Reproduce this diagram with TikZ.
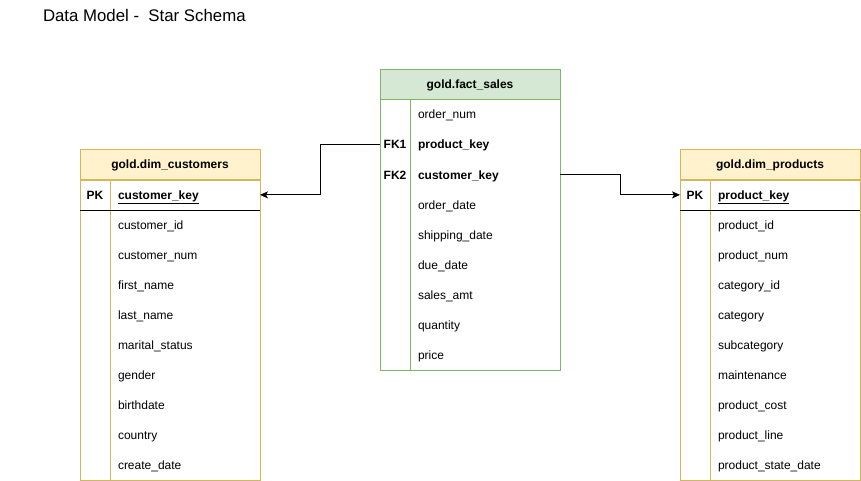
\documentclass[tikz,border=0pt]{standalone}
\usepackage{fontspec}
\setmainfont{Liberation Sans}
\usetikzlibrary{arrows.meta}
\definecolor{factfill}{HTML}{D5E8D4}
\definecolor{factline}{HTML}{82B366}
\definecolor{dimfill}{HTML}{FFF2CC}
\definecolor{dimline}{HTML}{D6B656}
\begin{document}
\begin{tikzpicture}[x=1pt, y=-1pt, line width=1pt,
	every node/.style={inner sep=0pt, outer sep=0pt, font=\fontsize{12}{14}\selectfont},
	tbl/.style={draw, rectangle, anchor=north west, minimum width=180pt, minimum height=#1},
	hdr/.style={draw, rectangle, anchor=north west, minimum width=180pt, minimum height=30pt, font=\fontsize{12}{14}\selectfont\bfseries},
	fld/.style={anchor=base west},
	key/.style={anchor=base, font=\fontsize{12}{14}\selectfont\bfseries},
	link/.style={-{Stealth[length=8pt, width=7pt, inset=2pt]}, line width=0.9pt}]
			\useasboundingbox (0,0) rectangle (861,481);
			\node[anchor=base west, font=\fontsize{16.8}{20}\selectfont] (title) at (43,21.5) {Data Model -~~Star Schema};
			
			% fact table
			\node[tbl=300pt, draw=factline, fill=white] (fs) at (380,70) {};
			\node[hdr, draw=factline, fill=factfill] (fsh) at (380,70) {gold.fact\_sales};
			\draw[factline] ([xshift=30pt]fsh.south west)--([xshift=30pt]fs.south west);
			\node[key] (fk1) at (395,149) {FK1};
			\node[key] (fk2) at (395,179) {FK2};
			\node[fld] (f1) at (418,119) {order\_num};
			\node[fld, font=\fontsize{12}{14}\selectfont\bfseries] (f2) at (418,149) {product\_key};
			\node[fld, font=\fontsize{12}{14}\selectfont\bfseries] (f3) at (418,179) {customer\_key};
			\node[fld] (f4) at (418,209) {order\_date};
			\node[fld] (f5) at (418,239) {shipping\_date};
			\node[fld] (f6) at (418,269) {due\_date};
			\node[fld] (f7) at (418,299) {sales\_amt};
			\node[fld] (f8) at (418,329) {quantity};
			\node[fld] (f9) at (418,359) {price};
			
			% customers
			\node[tbl=330pt, draw=dimline, fill=white] (cu) at (80,150) {};
			\node[hdr, draw=dimline, fill=dimfill] (cuh) at (80,150) {gold.dim\_customers};
			\draw[dimline] ([xshift=30pt]cuh.south west)--([xshift=30pt]cu.south west);
			\draw ([yshift=-30pt]cuh.south west)--([yshift=-30pt]cuh.south east);
			\node[key] (cpk) at (95,199) {PK};
			\node[fld, font=\fontsize{12}{14}\selectfont\bfseries] (c1) at (118,199) {\underline{customer\_key}};
			\node[fld] (c2) at (118,229) {customer\_id};
			\node[fld] (c3) at (118,259) {customer\_num};
			\node[fld] (c4) at (118,289) {first\_name};
			\node[fld] (c5) at (118,319) {last\_name};
			\node[fld] (c6) at (118,349) {marital\_status};
			\node[fld] (c7) at (118,379) {gender};
			\node[fld] (c8) at (118,409) {birthdate};
			\node[fld] (c9) at (118,439) {country};
			\node[fld] (c10) at (118,469) {create\_date};
			
			% products
			\node[tbl=330pt, draw=dimline, fill=white] (pr) at (680,150) {};
			\node[hdr, draw=dimline, fill=dimfill] (prh) at (680,150) {gold.dim\_products};
			\draw[dimline] ([xshift=30pt]prh.south west)--([xshift=30pt]pr.south west);
			\draw ([yshift=-30pt]prh.south west)--([yshift=-30pt]prh.south east);
			\node[key] (ppk) at (695,199) {PK};
			\node[fld, font=\fontsize{12}{14}\selectfont\bfseries] (p1) at (718,199) {\underline{product\_key}};
			\node[fld] (p2) at (718,229) {product\_id};
			\node[fld] (p3) at (718,259) {product\_num};
			\node[fld] (p4) at (718,289) {category\_id};
			\node[fld] (p5) at (718,319) {category};
			\node[fld] (p6) at (718,349) {subcategory};
			\node[fld] (p7) at (718,379) {maintenance};
			\node[fld] (p8) at (718,409) {product\_cost};
			\node[fld] (p9) at (718,439) {product\_line};
			\node[fld] (p10) at (718,469) {product\_state\_date};
			
			% links
			\draw[link] (fs.west |- fk1)--++(-60,0)|-(cu.east |- cpk);
			\draw[link] (fs.east |- fk2)--++(60,0)|-(pr.west |- ppk);
		\end{tikzpicture}
\end{document}
